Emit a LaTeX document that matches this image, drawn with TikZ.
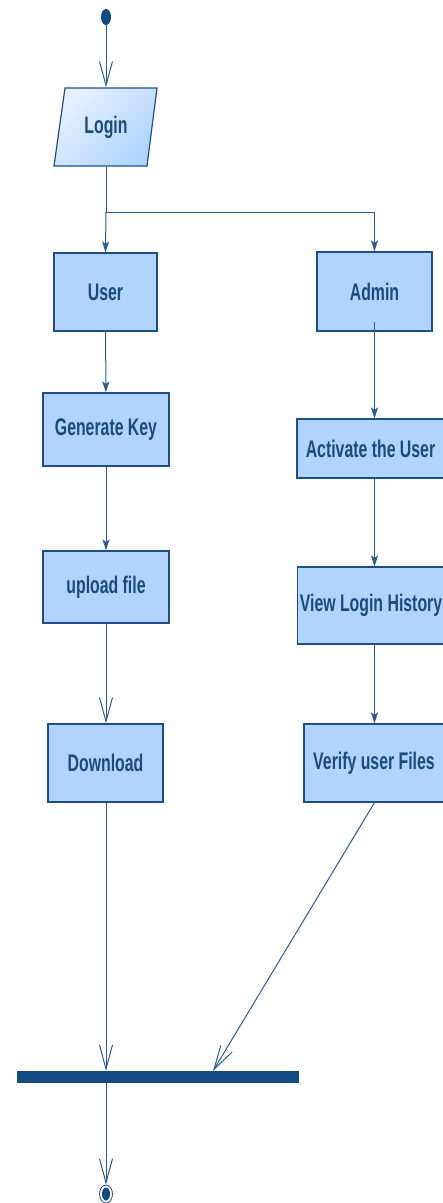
\documentclass[tikz,border=0pt]{standalone}
\usepackage{fontspec}
\newfontfamily\lblfont{Liberation Sans}[FakeStretch=0.66]
\usetikzlibrary{arrows.meta,shapes.geometric,calc}
\definecolor{boxfill}{HTML}{B0D4FE}
\definecolor{boxlight}{HTML}{E6F1FF}
\definecolor{boxline}{HTML}{1F4E86}
\definecolor{labelc}{HTML}{1B4A7C}
\definecolor{linec}{HTML}{2A5B94}
\definecolor{barc}{HTML}{124A82}
\begin{document}
\begin{tikzpicture}[x=1pt,y=-1pt,
  act/.style={draw=boxline, line width=1.2pt, fill=boxfill, inner sep=2pt,
    font={\lblfont\bfseries\fontsize{24}{27}\selectfont}, text=labelc},
  conn/.style={draw=linec, line width=1pt},
  vtip/.style={conn, -{Straight Barb[length=24pt,width=13pt]}},
  ftip/.style={conn, -{Stealth[length=11pt,width=7pt,inset=2.5pt]}}]
\useasboundingbox (0,0) rectangle (443,1203);

% initial state
\node[ellipse, fill=barc, minimum width=10, minimum height=16, inner sep=0] (start) at (106,17) {};

% login (parallelogram input)
\shade[top color=boxlight, bottom color=boxfill, shading angle=45]
  (65,88) -- (157,88) -- (147,166) -- (54,166) -- cycle;
\draw[boxline, line width=1.2pt] (65,88) -- (157,88) -- (147,166) -- (54,166) -- cycle;
\node[act, draw=none, fill=none, minimum width=92, minimum height=78, inner sep=0] (login) at (106,127) {Login};

% user column
\node[act, minimum width=103, minimum height=78] (user) at (105.5,292) {User};
\node[act, minimum width=126, minimum height=73] (genkey) at (106,429.5) {Generate Key};
\node[act, minimum width=126, minimum height=72] (upload) at (106,587) {upload file};
\node[act, minimum width=115, minimum height=78] (download) at (105.5,763) {Download};

% admin column
\node[act, minimum width=115, minimum height=79] (admin) at (374.5,291.5) {Admin};
\node[act, minimum width=147, minimum height=59] (activate) at (370.5,448.5) {Activate the User};
\node[act, minimum width=146, minimum height=77] (history) at (371,605.5) {View Login History};
\node[act, minimum width=140, minimum height=78] (verify) at (374,763) {Verify user Files};

% join bar and final state
\node[fill=barc, minimum width=282, minimum height=12, inner sep=0] (bar) at (158,1077) {};
\node[ellipse, draw=boxline, line width=0.8pt, fill=white, minimum width=13, minimum height=18, inner sep=0] (final) at (106,1194) {};
\fill[barc] (final.center) ellipse [x radius=4, y radius=6.5];

\coordinate (split) at (106,212);
\coordinate (barR) at (213,1071);

% connectors
\draw[vtip] (start) -- (login.north);
\draw[conn] (login.south) -- (split);
\draw[ftip] (split) -- (user.north);
\draw[ftip] (split) -| (admin.north);
\draw[ftip] (user) -- (genkey);
\draw[ftip] (genkey) -- (upload);
\draw[vtip] (upload.south) -- (upload.south |- download.north);
\draw[vtip] (upload.south |- download.south) -- (upload.south |- bar.north);
\draw[ftip] ([yshift=10pt]admin.south) -- (activate.north -| admin.south);
\draw[ftip] (activate.south -| admin.south) -- (history.north -| admin.south);
\draw[ftip] (history.south -| admin.south) -- (verify.north -| admin.south);
\draw[vtip] (verify.south -| admin.south) -- (barR);
\draw[vtip] (bar.south -| final) -- (final.north);
\end{tikzpicture}
\end{document}
